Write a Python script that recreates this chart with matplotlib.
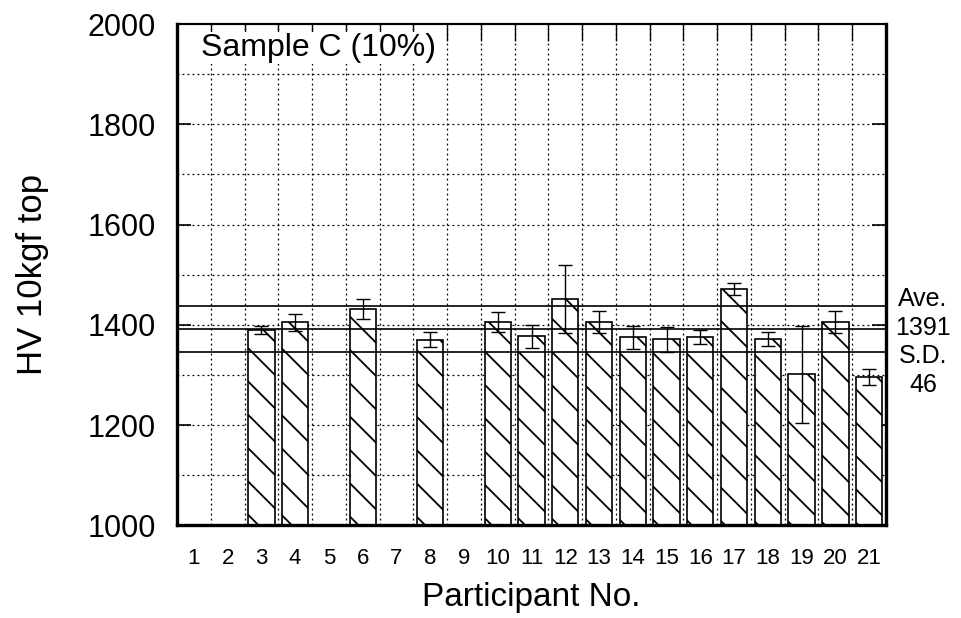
import numpy as np
import matplotlib.pyplot as plt

plt.rcParams['font.family'] = ['Liberation Sans', 'DejaVu Sans']
plt.rcParams['hatch.linewidth'] = 1.3

# HV10 hardness, sample C; participants 1, 2, 5, 7 and 9 reported no value
participants = [3, 4, 6, 8, 10, 11, 12, 13, 14, 15, 16, 17, 18, 19, 20, 21]
hv_mean = [1390, 1405, 1432, 1370, 1405, 1377, 1452, 1406,
           1375, 1371, 1375, 1472, 1371, 1301, 1406, 1296]
hv_sd = [8, 17, 20, 15, 20, 23, 68, 22, 23, 25, 14, 12, 14, 96, 22, 16]

grand_ave = 1391
grand_sd = 46

fig = plt.figure(figsize=(9.62, 6.18), dpi=100)
ax = fig.add_axes([0.184, 0.150, 0.737, 0.811])

# dotted grid
for y in range(1100, 2000, 100):
    ax.axhline(y, color='black', lw=0.9, ls=(0, (1.5, 2.5)), zorder=1)
for x in np.arange(1.5, 21, 1.0):
    ax.axvline(x, color='black', lw=0.9, ls=(0, (1.5, 2.5)), zorder=1)

ax.bar(participants, [v - 1000 for v in hv_mean], bottom=1000, width=0.78,
       facecolor='white', edgecolor='black', hatch='\\', lw=1.2, zorder=2)
ax.errorbar(participants, hv_mean, yerr=hv_sd, fmt='none', ecolor='black',
            elinewidth=1.0, capsize=5, capthick=1.0, zorder=4)

# overall average and +/- one standard deviation
for y in (grand_ave - grand_sd, grand_ave, grand_ave + grand_sd):
    ax.axhline(y, color='black', lw=1.2, zorder=3)

ax.set_xlim(0.5, 21.5)
ax.set_ylim(1000, 2000)
ax.set_xticks(range(1, 22))
ax.set_xticklabels([str(i) for i in range(1, 22)], fontsize=16)
ax.set_yticks(range(1000, 2001, 200))
ax.set_yticklabels([str(v) for v in range(1000, 2001, 200)], fontsize=22)
ax.tick_params(axis='x', length=0, pad=16)
ax.tick_params(axis='y', direction='in', length=10, width=1.2, pad=15,
               right=True)

# short inward marks along the top edge at the cell boundaries
top = ax.secondary_xaxis('top')
top.set_xticks(np.arange(1.5, 21, 1.0))
top.set_xticklabels([])
top.tick_params(direction='in', length=12, width=1.0)

for side in ('left', 'bottom', 'right'):
    ax.spines[side].set_linewidth(2.4)
ax.spines['top'].set_linewidth(1.5)
top.spines['top'].set_linewidth(1.5)

ax.set_xlabel('Participant No.', fontsize=24, labelpad=10)
ax.set_ylabel('HV 10kgf top', fontsize=25, labelpad=28)

ax.text(1.2, 1952, 'Sample C (10%)', fontsize=23, va='center', ha='left',
        bbox=dict(facecolor='white', edgecolor='none', pad=1), zorder=5)

for txt, yv in (('Ave.', 1452), (str(grand_ave), 1394),
                ('S.D.', 1338), (str(grand_sd), 1280)):
    ax.text(1.052, yv, txt, transform=ax.get_yaxis_transform(),
            fontsize=18, ha='center', va='center')

fig.savefig('out.png', dpi=100)
